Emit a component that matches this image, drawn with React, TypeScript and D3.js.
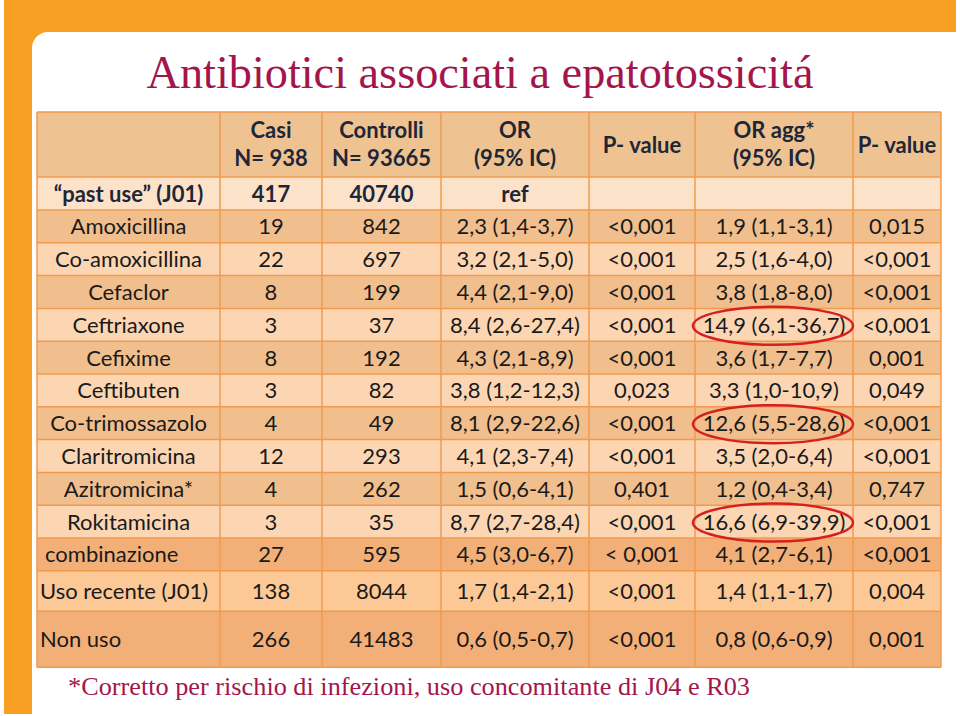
import React from 'react';
import * as d3 from 'd3';

// table content
const rowLabels = [
  '“past use” (J01)',
  'Amoxicillina',
  'Co-amoxicillina',
  'Cefaclor',
  'Ceftriaxone',
  'Cefixime',
  'Ceftibuten',
  'Co-trimossazolo',
  'Claritromicina',
  'Azitromicina*',
  'Rokitamicina',
  'combinazione',
  'Uso recente (J01)',
  'Non uso',
];
const casi = ['417', '19', '22', '8', '3', '8', '3', '4', '12', '4', '3', '27', '138', '266'];
const controlli = ['40740', '842', '697', '199', '37', '192', '82', '49', '293', '262', '35', '595', '8044', '41483'];
const orCI = [
  'ref', '2,3 (1,4-3,7)', '3,2 (2,1-5,0)', '4,4 (2,1-9,0)', '8,4 (2,6-27,4)', '4,3 (2,1-8,9)', '3,8 (1,2-12,3)',
  '8,1 (2,9-22,6)', '4,1 (2,3-7,4)', '1,5 (0,6-4,1)', '8,7 (2,7-28,4)', '4,5 (3,0-6,7)', '1,7 (1,4-2,1)', '0,6 (0,5-0,7)',
];
const pValue = ['', '<0,001', '<0,001', '<0,001', '<0,001', '<0,001', '0,023', '<0,001', '<0,001', '0,401', '<0,001', '< 0,001', '<0,001', '<0,001'];
const orAgg = [
  '', '1,9 (1,1-3,1)', '2,5 (1,6-4,0)', '3,8 (1,8-8,0)', '14,9 (6,1-36,7)', '3,6 (1,7-7,7)', '3,3 (1,0-10,9)',
  '12,6 (5,5-28,6)', '3,5 (2,0-6,4)', '1,2 (0,4-3,4)', '16,6 (6,9-39,9)', '4,1 (2,7-6,1)', '1,4 (1,1-1,7)', '0,8 (0,6-0,9)',
];
const pAgg = ['', '0,015', '<0,001', '<0,001', '<0,001', '0,001', '0,049', '<0,001', '<0,001', '0,747', '<0,001', '<0,001', '0,004', '0,001'];
const headers = [[''], ['Casi', 'N= 938'], ['Controlli', 'N= 93665'], ['OR', '(95% IC)'], ['P- value'], ['OR agg*', '(95% IC)'], ['P- value']];
const highlighted = ['Ceftriaxone', 'Co-trimossazolo', 'Rokitamicina'];

const title = 'Antibiotici associati a epatotossicitá';
const footnote = '*Corretto per rischio di infezioni, uso concomitante di J04 e R03';

const W = 960;
const H = 716;
const crimson = '#A3154B';
const gridColor = '#F29A4C';
const font = 'Lato, "Open Sans", sans-serif';
const fs = 22;

// column edges and row heights
const colEdges = [37, 220, 322, 441, 589, 695, 853, 941];
const tableTop = 112;
const headerH = 65;
const rowHeights = rowLabels.map((_, i) => (i === 0 ? 33 : i === 12 ? 40.5 : i === 13 ? 56 : 32.8));

const rowFill = (i: number) => {
  if (i === 0) return '#FCE2C9';
  if (i >= 11) return i % 2 === 1 ? '#F2B078' : '#FCC896';
  return i % 2 === 1 ? '#F1BE8D' : '#FCD6B3';
};

export default function App() {
  const columns = rowLabels.map((_, i) => [rowLabels[i], casi[i], controlli[i], orCI[i], pValue[i], orAgg[i], pAgg[i]]);
  const rowTops = d3.cumsum([tableTop + headerH, ...rowHeights]).map((v) => v);
  const tableBottom = rowTops[rowTops.length - 1];
  const colCenter = (c: number) => (colEdges[c] + colEdges[c + 1]) / 2;
  const labelX = (i: number) => (i === 11 ? 45 : i >= 12 ? 40 : colCenter(0));
  const labelAnchor = (i: number) => (i >= 11 ? 'start' : 'middle');

  return (
    <svg width={W} height={H} style={{ position: 'absolute', left: 0, top: 0 }}>
      <rect x={0} y={0} width={W} height={H} fill="#fff" />
      {/* orange frame */}
      <rect x={4} y={0} width={952} height={32} fill="#F7A023" />
      <rect x={4} y={0} width={28} height={714} fill="#F7A023" />
      <path d="M32,32 L48,32 A16,16 0 0 0 32,48 Z" fill="#F7A023" />

      <text x={480} y={88} textAnchor="middle" fontFamily='"Liberation Serif", serif' fontSize={46} fill={crimson}
        textLength={667} lengthAdjust="spacingAndGlyphs">
        {title}
      </text>

      {/* header */}
      <rect x={colEdges[0]} y={tableTop} width={colEdges[7] - colEdges[0]} height={headerH} fill="#EEC391" />
      {headers.map((lines, c) =>
        lines.map((t, k) => (
          <text key={`h${c}${k}`} x={colCenter(c)} y={lines.length === 1 ? tableTop + headerH / 2 + 8 : tableTop + 26 + k * 28}
            textAnchor="middle" fontFamily={font} fontWeight="bold" fontSize={fs} fill="#1E2638">
            {t}
          </text>
        ))
      )}

      {/* body rows */}
      {columns.map((cells, i) => (
        <g key={i}>
          <rect x={colEdges[0]} y={rowTops[i]} width={colEdges[7] - colEdges[0]} height={rowHeights[i]} fill={rowFill(i)} />
          {cells.map((t, c) => (
            <text key={c} x={c === 0 ? labelX(i) : colCenter(c)} y={rowTops[i] + rowHeights[i] / 2 + 8}
              textAnchor={c === 0 ? labelAnchor(i) : 'middle'} fontFamily={font} fontSize={fs}
              fontWeight={i === 0 ? 'bold' : 'normal'} fill={i === 0 ? '#1E2638' : '#1a1a1a'}>
              {t}
            </text>
          ))}
        </g>
      ))}

      {/* grid */}
      {colEdges.map((x, k) => (
        <line key={`v${k}`} x1={x} x2={x} y1={tableTop} y2={tableBottom} stroke={gridColor} strokeWidth={1.5} />
      ))}
      {[tableTop, ...rowTops].map((y, k) => (
        <line key={`r${k}`} x1={colEdges[0]} x2={colEdges[7]} y1={y} y2={y} stroke={gridColor} strokeWidth={1.5} />
      ))}

      {/* highlight ellipses */}
      {highlighted.map((name) => {
        const i = rowLabels.indexOf(name);
        return (
          <ellipse key={name} cx={colCenter(5) - 1} cy={rowTops[i] + rowHeights[i] / 2 + 1} rx={80} ry={19}
            fill="none" stroke="#D6201F" strokeWidth={2.5} />
        );
      })}

      <text x={68} y={695} fontFamily='"Liberation Serif", serif' fontSize={25} fill={crimson}
        textLength={682} lengthAdjust="spacingAndGlyphs">
        {footnote}
      </text>
    </svg>
  );
}
